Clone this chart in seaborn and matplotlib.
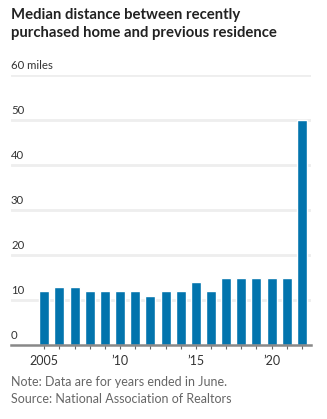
import matplotlib
matplotlib.use("Agg")
import matplotlib.pyplot as plt
import matplotlib.transforms as mtransforms
import seaborn as sns
import pandas as pd

years = [2005, 2006, 2007, 2008, 2009, 2010, 2011, 2012, 2013, 2014,
         2015, 2016, 2017, 2018, 2019, 2020, 2021, 2022]
miles = [12, 13, 13, 12, 12, 12, 12, 11, 12, 12,
         14, 12, 15, 15, 15, 15, 15, 50]
ytick_vals = [0, 10, 20, 30, 40, 50, 60]
ytick_labels = ["0", "10", "20", "30", "40", "50", "60 miles"]
xtick_vals = [2005, 2010, 2015, 2020]
xtick_labels = ["2005", "\u201910", "\u201915", "\u201920"]
title = "Median distance between recently\npurchased home and previous residence"
footer = "Note: Data are for years ended in June.\nSource: National Association of Realtors"

df = pd.DataFrame({"year": years, "miles": miles})

sns.set_theme(style="white")
plt.rcParams["font.family"] = ["Lato", "DejaVu Sans"]

W, H = 327, 419
fig = plt.figure(figsize=(W / 100, H / 100), dpi=100)
ax = fig.add_axes([11 / W, 1 - 345 / H, (311 - 11) / W, (345 - 75) / H])

sns.barplot(data=df, x="year", y="miles", native_scale=True, color="#0274ad",
            saturation=1, width=0.66, ax=ax, zorder=3)

ax.set_ylim(0, 60)
ax.set_xlim(2002.8, 2022.6)
for v in ytick_vals[1:]:
    ax.axhline(v, color="#eeeeee", lw=2, zorder=1)

ax.set_yticks([])
trans = mtransforms.blended_transform_factory(ax.transAxes, ax.transData)
for v, lab in zip(ytick_vals, ytick_labels):
    ax.text(0.0, v + 0.9, lab, transform=trans, ha="left", va="bottom",
            fontsize=8.2, color="#333333", zorder=4)

ax.set_xticks(years, minor=True)
ax.set_xticks(xtick_vals)
ax.set_xticklabels(xtick_labels, fontsize=9, color="#333333")
ax.tick_params(axis="x", which="both", direction="out", length=3, width=0.8,
               color="#666666", pad=4, bottom=True)
ax.set_xlabel("")
ax.set_ylabel("")
for s in ["top", "right", "left"]:
    ax.spines[s].set_visible(False)
ax.spines["bottom"].set_color("#888888")
ax.spines["bottom"].set_linewidth(1.8)
ax.spines["bottom"].set_zorder(5)

fig.text(11 / W, 1 - 8 / H, title, ha="left", va="top", fontsize=10.7,
         fontweight="bold", color="#222222", linespacing=1.35)
fig.text(11 / W, 1 - 376 / H, footer, ha="left", va="top", fontsize=9,
         color="#666666", linespacing=1.45)

fig.savefig("out.png", dpi=100)
